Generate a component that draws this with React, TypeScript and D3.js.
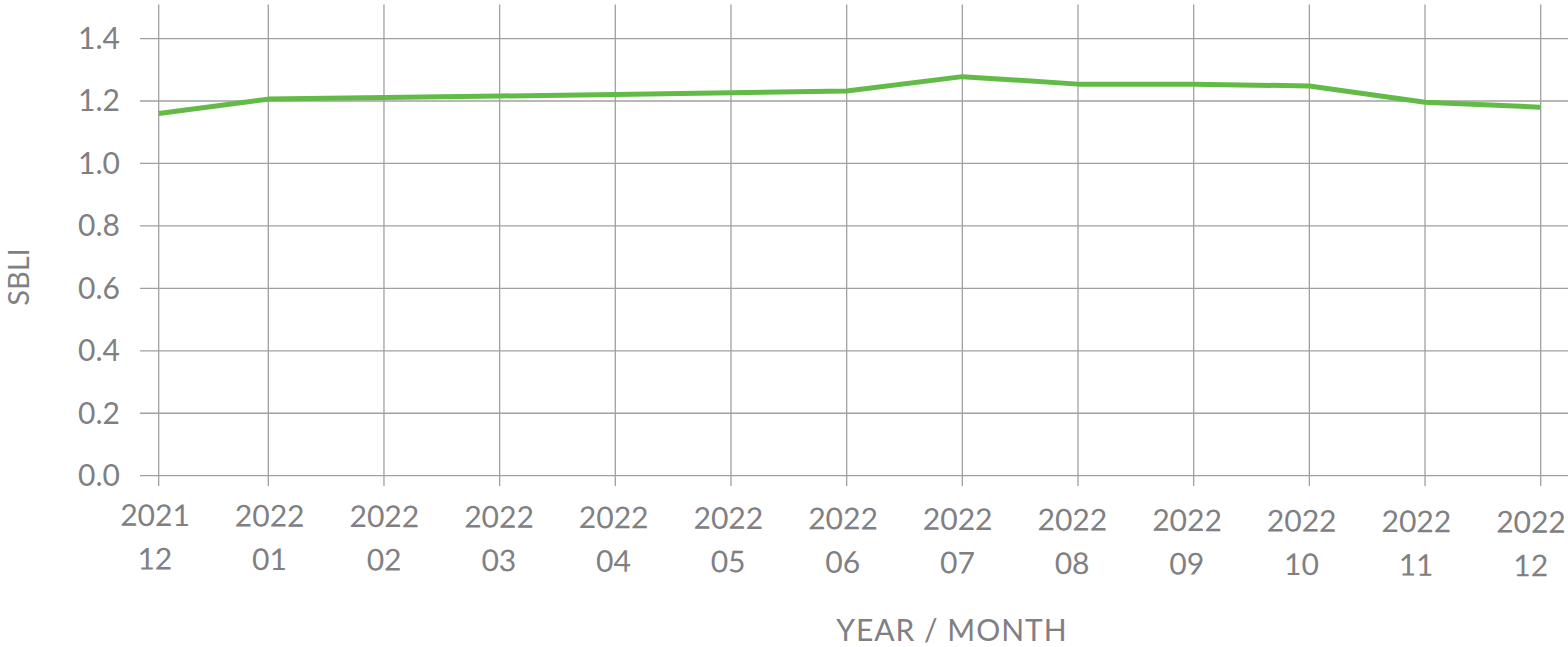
import React from "react";
import * as d3 from "d3";

const years = ["2021", "2022", "2022", "2022", "2022", "2022", "2022", "2022", "2022", "2022", "2022", "2022", "2022"];
const months = ["12", "01", "02", "03", "04", "05", "06", "07", "08", "09", "10", "11", "12"];
const sbli = [1.16, 1.206, 1.211, 1.216, 1.221, 1.226, 1.232, 1.278, 1.254, 1.254, 1.248, 1.196, 1.18];
const yTicks = [0, 0.2, 0.4, 0.6, 0.8, 1.0, 1.2, 1.4];

const W = 1568;
const H = 647;
const FONT = "Lato, 'Noto Sans', sans-serif";
const TEXT = "#808083";
const GRID = "#a0a0a2";
const GREEN = "#62bb46";

export default function App() {
  const idx = months.map((_, i) => i);
  // grid/data x scale (first interval is slightly shorter in the reference)
  const x = d3.scaleLinear().domain([0, 1, 12]).range([158.7, 268.3, 1540.7]);
  // label positions
  const xl = d3.scalePoint<number>().domain(idx).range([155, 1531]);
  const y = d3.scaleLinear().domain([0, 1.509]).range([475.7, 4.5]);

  const line = d3
    .line<number>()
    .x((i) => x(i))
    .y((i) => y(sbli[i]));

  return (
    <svg
      width={W}
      height={H}
      style={{ position: "absolute", left: 0, top: 0, background: "#fff" }}
      fontFamily={FONT}
    >
      {/* horizontal grid */}
      {yTicks.map((t) => (
        <line key={"h" + t} x1={140} x2={W} y1={y(t)} y2={y(t)} stroke={GRID} strokeWidth={1.3} />
      ))}
      {/* vertical grid */}
      {idx.map((i) => (
        <line key={"v" + i} x1={x(i)} x2={x(i)} y1={4.5} y2={486} stroke={GRID} strokeWidth={1.3} />
      ))}
      {/* y tick labels */}
      {yTicks.map((t) => (
        <text key={"yl" + t} x={120} y={y(t) + 10.5} textAnchor="end" fontSize={30} fill={TEXT}>
          {t.toFixed(1)}
        </text>
      ))}
      {/* x tick labels */}
      <g transform="rotate(0.28 155 526)">
        {idx.map((i) => (
          <g key={"xl" + i}>
            <text x={xl(i)} y={526} textAnchor="middle" fontSize={30} fill={TEXT}>
              {years[i]}
            </text>
            <text x={xl(i)} y={569.5} textAnchor="middle" fontSize={30} fill={TEXT}>
              {months[i]}
            </text>
          </g>
        ))}
      </g>
      {/* data line */}
      <path d={line(idx) || ""} fill="none" stroke={GREEN} strokeWidth={5} strokeLinejoin="round" />
      {/* axis titles */}
      <text x={952} y={641} textAnchor="middle" fontSize={30} fill={TEXT} letterSpacing={1}>
        YEAR / MONTH
      </text>
      <text
        transform="translate(29 277) rotate(-90)"
        textAnchor="middle"
        fontSize={29}
        fill={TEXT}
      >
        SBLI
      </text>
    </svg>
  );
}
